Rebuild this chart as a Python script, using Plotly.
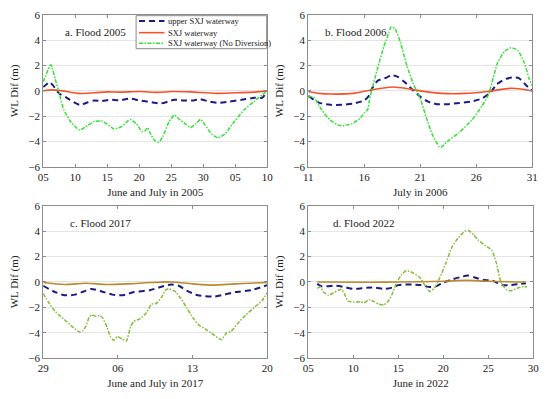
import plotly.graph_objects as go

# ---------------- data ----------------
# Panel a: Flood 2005 (x = day counted from 1 June; 35 = 5 July)
a_green_x = [5, 6.2, 6.9, 7.4, 8.2, 9.4, 10.7, 12.0, 13.0, 14.3, 16.1, 17.3, 18.6, 19.6, 20.4, 20.9, 21.3, 21.7, 22.4, 23.1, 23.7, 24.7, 25.5, 26.2, 27.2, 28.0, 28.8, 29.6, 30.3, 31.3, 32.3, 33.4, 34.9, 36.4, 37.9, 39.5, 40]
a_green_y = [0.7, 2.05, 0.9, 0.0, -1.45, -2.5, -3.1, -2.7, -2.4, -2.4, -3.0, -2.8, -2.25, -2.6, -3.2, -3.15, -2.9, -3.3, -3.9, -4.05, -3.6, -2.4, -1.9, -2.2, -2.6, -2.9, -2.6, -2.25, -2.7, -3.4, -3.7, -3.4, -2.4, -1.5, -0.85, -0.2, 0.0]
a_blue_x = [5, 5.5, 6.0, 6.5, 7.5, 8.5, 10.7, 12, 13, 14, 15.5, 17, 18.5, 20, 22, 23.3, 24.5, 25.5, 27, 28.5, 29.5, 31, 32.5, 34, 36, 38, 39.2, 40]
a_blue_y = [0.3, 0.5, 0.7, 0.45, -0.2, -0.5, -1.1, -0.9, -0.75, -0.8, -0.7, -0.75, -0.6, -0.75, -0.9, -1.0, -0.85, -0.7, -0.75, -0.75, -0.65, -0.85, -0.95, -0.85, -0.7, -0.55, -0.55, -0.05]
a_red_x = [5, 6.5, 8, 10.5, 13, 15, 17, 20, 23, 25, 28, 32, 35, 38, 40]
a_red_y = [0.0, 0.08, 0.0, -0.2, -0.15, -0.08, -0.1, -0.05, -0.12, -0.05, -0.08, -0.2, -0.15, -0.1, 0.0]

# Panel b: Flood 2006 (x = day of July)
b_green_x = [11, 11.5, 12.2, 12.95, 13.7, 14.1, 14.85, 15.6, 16.0, 16.3, 16.45, 16.65, 17.2, 17.75, 18.2, 18.4, 18.75, 19.2, 19.8, 20.4, 20.96, 21.5, 22.1, 22.7, 22.85, 23.4, 24.45, 25.6, 26.5, 27.1, 27.5, 27.9, 28.5, 29.1, 29.7, 30.3, 30.7, 31]
b_green_y = [-0.45, -0.5, -1.5, -2.3, -2.7, -2.75, -2.6, -2.2, -1.75, -1.5, -0.8, 0.0, 1.8, 3.5, 4.6, 5.05, 4.9, 3.9, 2.0, 0.5, -0.5, -2.0, -3.5, -4.4, -4.45, -4.0, -3.3, -2.3, -1.2, -0.3, 1.0, 2.2, 3.1, 3.4, 3.2, 2.2, 1.0, 0.4]
b_blue_x = [11, 12, 13, 14, 15, 16, 16.4, 16.7, 17.2, 18, 18.4, 19, 19.6, 20.4, 21, 21.7, 22.5, 23.5, 24.5, 25.5, 26.5, 27.3, 27.8, 28.5, 29.2, 29.8, 30.5, 31]
b_blue_y = [-0.4, -0.95, -1.1, -1.1, -1.0, -0.75, -0.4, 0.2, 0.8, 1.05, 1.25, 1.1, 0.7, 0.0, -0.45, -0.85, -1.05, -1.05, -0.95, -0.85, -0.6, -0.1, 0.5, 0.9, 1.05, 1.0, 0.4, 0.0]
b_red_x = [11, 12, 13, 15, 16.5, 18.5, 20, 21, 23, 25, 27, 29, 30, 31]
b_red_y = [-0.05, -0.2, -0.25, -0.2, 0.05, 0.3, 0.15, 0.0, -0.2, -0.2, -0.05, 0.2, 0.15, 0.0]

# Panel c: Flood 2017 (x = day counted from 1 June; 36 = 6 July)
c_green_x = [29, 29.5, 30.1, 30.9, 31.7, 32.4, 32.7, 33.0, 33.3, 33.55, 33.95, 34.3, 34.6, 35.0, 35.3, 35.6, 35.95, 36.4, 36.8, 37.2, 37.5, 38.1, 38.7, 39.15, 39.6, 40.1, 40.5, 40.8, 41.3, 41.9, 42.5, 43.1, 43.6, 44.2, 44.95, 45.7, 46.2, 46.6, 47.2, 48.0, 48.8, 49.5, 50]
c_green_y = [-0.9, -1.6, -2.3, -2.9, -3.5, -3.95, -3.85, -3.5, -2.8, -2.6, -2.7, -2.65, -2.85, -3.6, -4.3, -4.6, -4.3, -4.5, -4.65, -3.5, -3.1, -2.9, -2.4, -1.75, -1.7, -1.2, -0.6, -0.55, -0.7, -1.3, -2.1, -2.9, -3.4, -3.7, -4.15, -4.55, -4.0, -3.9, -3.3, -2.6, -2.0, -1.5, -0.85]
c_blue_x = [29, 30, 31, 32, 32.8, 33.5, 34.5, 35.5, 36.5, 37.5, 39, 40, 41, 41.7, 42.5, 43.5, 45, 46, 47, 48.5, 50]
c_blue_y = [-0.3, -0.75, -1.05, -1.0, -0.75, -0.55, -0.75, -1.0, -1.05, -0.8, -0.65, -0.4, -0.2, -0.3, -0.7, -1.05, -1.15, -1.0, -0.8, -0.65, -0.25]
c_red_x = [29, 31, 33, 35, 37, 39, 41, 43, 45, 47, 50]
c_red_y = [-0.05, -0.2, -0.1, -0.2, -0.15, -0.05, 0.0, -0.15, -0.25, -0.15, -0.05]

# Panel d: Flood 2022 (x = day of June)
d_green_x = [6.0, 6.35, 6.7, 7.25, 7.8, 8.3, 8.7, 9.05, 9.4, 10.1, 10.85, 11.2, 11.75, 12.3, 12.85, 13.4, 13.8, 14.3, 14.85, 15.4, 15.9, 16.7, 17.4, 17.9, 18.5, 19.0, 19.6, 20.3, 21.0, 21.7, 22.4, 22.8, 23.4, 23.9, 24.6, 25.4, 25.9, 26.4, 27.0, 27.5, 28.2, 29.0, 29.3]
d_green_y = [-0.5, -0.4, -0.8, -1.05, -0.85, -0.65, -0.6, -1.0, -1.5, -1.6, -1.55, -1.65, -1.4, -1.55, -1.75, -1.8, -1.6, -1.0, 0.0, 0.6, 0.9, 0.7, 0.35, -0.2, -0.75, -0.5, 0.3, 1.5, 2.8, 3.5, 4.0, 4.05, 3.7, 3.3, 2.9, 2.5, 1.5, 0.0, -0.6, -0.7, -0.5, -0.35, -0.4]
d_blue_x = [6, 6.5, 8, 9, 10, 11.5, 12.5, 13.5, 14.3, 15, 16.5, 17.5, 18.5, 19.2, 20, 21, 22, 22.7, 23.5, 24.5, 25.5, 26.5, 27.5, 28.5, 29.2]
d_blue_y = [-0.15, -0.35, -0.3, -0.4, -0.55, -0.45, -0.45, -0.55, -0.45, -0.25, -0.2, -0.25, -0.4, -0.35, -0.05, 0.2, 0.4, 0.5, 0.35, 0.15, 0.1, -0.25, -0.25, -0.15, -0.1]
d_red_x = [6, 12, 15, 20, 22.5, 25, 29.2]
d_red_y = [0.0, -0.02, 0.0, 0.05, 0.12, 0.05, 0.0]

# tick labels
a_tickvals = [5, 10, 15, 20, 25, 30, 35, 40]
a_ticktext = ["05", "10", "15", "20", "25", "30", "05", "10"]
b_tickvals = [11, 16, 21, 26, 31]
b_ticktext = ["11", "16", "21", "26", "31"]
c_tickvals = [29, 36, 43, 50]
c_ticktext = ["29", "06", "13", "20"]
d_tickvals = [5, 10, 15, 20, 25, 30]
d_ticktext = ["05", "10", "15", "20", "25", "30"]
y_tickvals = [-6, -4, -2, 0, 2, 4, 6]

series_names = ["upper SXJ waterway", "SXJ waterway", "SXJ waterway (No Diversion)"]
panel_titles = ["a. Flood 2005", "b. Flood 2006", "c. Flood 2017", "d. Flood 2022"]
x_titles = ["June and July in 2005", "July in 2006", "June and July in 2017", "June in 2022"]

# ---------------- figure ----------------
FONT = "Liberation Serif, Times New Roman, serif"
W, H = 550, 399

def px_dom(a, b, total):
    return [a / total, b / total]

x_doms = [px_dom(38, 267, W), px_dom(309, 538, W), px_dom(38, 267, W), px_dom(309, 539, W)]
y_doms = [[1 - 166 / H, 1 - 9 / H], [1 - 166 / H, 1 - 9 / H],
          [1 - 363 / H, 1 - 206 / H], [1 - 363 / H, 1 - 206 / H]]

panels = [
    (a_blue_x, a_blue_y, a_red_x, a_red_y, a_green_x, a_green_y, [5, 40], a_tickvals, a_ticktext),
    (b_blue_x, b_blue_y, b_red_x, b_red_y, b_green_x, b_green_y, [11, 31], b_tickvals, b_ticktext),
    (c_blue_x, c_blue_y, c_red_x, c_red_y, c_green_x, c_green_y, [29, 50], c_tickvals, c_ticktext),
    (d_blue_x, d_blue_y, d_red_x, d_red_y, d_green_x, d_green_y, [5, 30], d_tickvals, d_ticktext),
]

blue = "#1b1b86"
reds = ["#f4532c", "#f4532c", "#b98a2e", "#b98a2e"]
greens = ["#35e035", "#35e035", "#86bb3a", "#86bb3a"]
BLUE_DASH = "6px,4px"
GREEN_DASH = "4px,1.5px,1.5px,1.5px"

fig = go.Figure()
layout = dict(
    width=W, height=H,
    margin=dict(l=0, r=0, t=0, b=0),
    paper_bgcolor="white", plot_bgcolor="white",
    font=dict(family=FONT, size=11, color="#222"),
    showlegend=False,
)
annotations = []
shapes = []
title_x = [0.09, 0.065, 0.11, 0.10]
for i, (bx, by, rx, ry, gx, gy, xr, tv, tt) in enumerate(panels):
    n = i + 1
    xa = "x" if n == 1 else f"x{n}"
    ya = "y" if n == 1 else f"y{n}"
    fig.add_trace(go.Scatter(x=bx, y=by, mode="lines", name=series_names[0], xaxis=xa, yaxis=ya,
                             line=dict(color=blue, width=2, dash=BLUE_DASH, shape="spline", smoothing=0.6)))
    fig.add_trace(go.Scatter(x=rx, y=ry, mode="lines", name=series_names[1], xaxis=xa, yaxis=ya,
                             line=dict(color=reds[i], width=1.6, shape="spline", smoothing=0.8)))
    fig.add_trace(go.Scatter(x=gx, y=gy, mode="lines", name=series_names[2], xaxis=xa, yaxis=ya,
                             line=dict(color=greens[i], width=1.5, dash=GREEN_DASH, shape="spline", smoothing=0.5)))
    axis_common = dict(showline=True, linecolor="#8c8c8c", linewidth=1, mirror="ticks",
                       ticks="inside", ticklen=3, tickcolor="#8c8c8c", zeroline=False,
                       tickfont=dict(family=FONT, size=11, color="#222"))
    layout["xaxis" if n == 1 else f"xaxis{n}"] = dict(
        domain=x_doms[i], anchor=ya, range=xr, tickmode="array", tickvals=tv, ticktext=tt,
        showgrid=False, title=dict(text=x_titles[i], font=dict(family=FONT, size=11), standoff=6),
        **axis_common)
    layout["yaxis" if n == 1 else f"yaxis{n}"] = dict(
        domain=y_doms[i], anchor=xa, range=[-6, 6], tickmode="array", tickvals=y_tickvals,
        showgrid=True, gridcolor="#e4e4e4", gridwidth=1,
        title=dict(text="WL Dif (m)", font=dict(family=FONT, size=11), standoff=7),
        **axis_common)
    annotations.append(dict(text=panel_titles[i], xref=f"{xa} domain", yref=f"{ya} domain",
                            x=title_x[i], y=0.885, xanchor="left", yanchor="middle",
                            showarrow=False, font=dict(family=FONT, size=11, color="#222")))

# manual legend (key box) in panel a
def px(x):
    return x / W

def py(y):
    return 1 - y / H

shapes.append(dict(type="rect", xref="paper", yref="paper", x0=px(133), x1=px(266.5), y0=py(44), y1=py(10),
                   line=dict(color="#8a8a8a", width=1), fillcolor="white", layer="above"))
leg_rows = [15.5, 27.5, 38.5]
leg_styles = [dict(color=blue, width=2, dash=BLUE_DASH),
              dict(color=reds[0], width=1.6),
              dict(color=greens[0], width=1.5, dash=GREEN_DASH)]
for k in range(3):
    shapes.append(dict(type="line", xref="paper", yref="paper", x0=px(136), x1=px(162),
                       y0=py(leg_rows[k]), y1=py(leg_rows[k]), line=leg_styles[k], layer="above"))
    annotations.append(dict(text=series_names[k], xref="paper", yref="paper", x=px(164), y=py(leg_rows[k]),
                            xanchor="left", yanchor="middle", showarrow=False,
                            font=dict(family=FONT, size=8.5, color="#222")))
layout["annotations"] = annotations
layout["shapes"] = shapes
fig.update_layout(**layout)
fig.write_html("out.html", config={"displayModeBar": False},
               post_script="document.body.style.margin='0';document.body.style.padding='0';")
